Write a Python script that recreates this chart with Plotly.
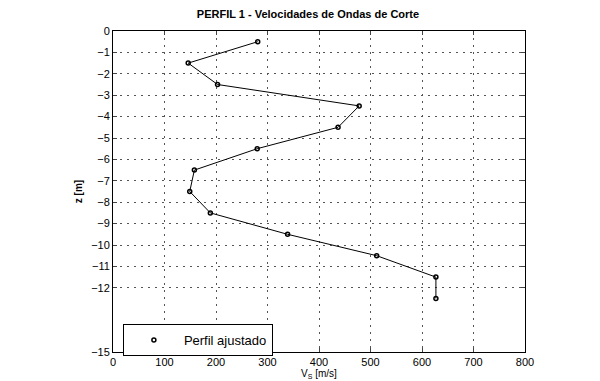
import plotly.graph_objects as go

vs = [281, 146, 203, 478, 437, 280, 158, 149, 189, 339, 512, 627, 627]
z = [-0.5, -1.5, -2.5, -3.5, -4.5, -5.5, -6.5, -7.5, -8.5, -9.5, -10.5, -11.5, -12.5]
yticks = [0, -1, -2, -3, -4, -5, -6, -7, -8, -9, -10, -11, -12, -15]
xticks = [0, 100, 200, 300, 400, 500, 600, 700, 800]

fig = go.Figure()
fig.add_trace(go.Scatter(
    x=vs, y=z, mode="lines+markers", name="Perfil ajustado", showlegend=False,
    line=dict(color="black", width=1),
    marker=dict(symbol="circle-open", size=4, color="black", line=dict(width=1.5)),
))
fig.add_trace(go.Scatter(
    x=[None], y=[None], mode="markers", name="Perfil ajustado",
    marker=dict(symbol="circle-open", size=4, color="black", line=dict(width=1.5)),
))

grid = dict(showgrid=True, gridcolor="#555", griddash="2px,5px", gridwidth=1)

fig.update_layout(
    width=600, height=381,
    margin=dict(l=105, r=83, t=23, b=31),
    paper_bgcolor="white", plot_bgcolor="white",
    font=dict(family="Liberation Sans, Arial", size=11, color="black"),
    title=dict(text="<b>PERFIL 1 - Velocidades de Ondas de Corte</b>",
               x=0.5, xanchor="center", y=0.995, yanchor="top",
               font=dict(size=11)),
    showlegend=True,
    legend=dict(x=0.024, y=0.087, xanchor="left", yanchor="top",
                bordercolor="black", borderwidth=1, bgcolor="white",
                font=dict(size=13), itemwidth=50),
)
fig.update_xaxes(
    range=[0, 800], tickvals=xticks, ticks="inside", ticklen=4,
    showline=True, linecolor="black", linewidth=1, mirror="ticks",
    zeroline=False, **grid,
    title=dict(text="V<sub>S</sub> [m/s]", font=dict(size=10), standoff=2),
    tickfont=dict(size=11),
)
fig.update_yaxes(
    range=[-15, 0], tickvals=yticks, ticks="inside", ticklen=4,
    showline=True, linecolor="black", linewidth=1, mirror="ticks",
    zeroline=False, **grid,
    title=dict(text="<b>z [m]</b>", font=dict(size=10), standoff=6),
    tickfont=dict(size=11),
)
fig.write_html("out.html")
